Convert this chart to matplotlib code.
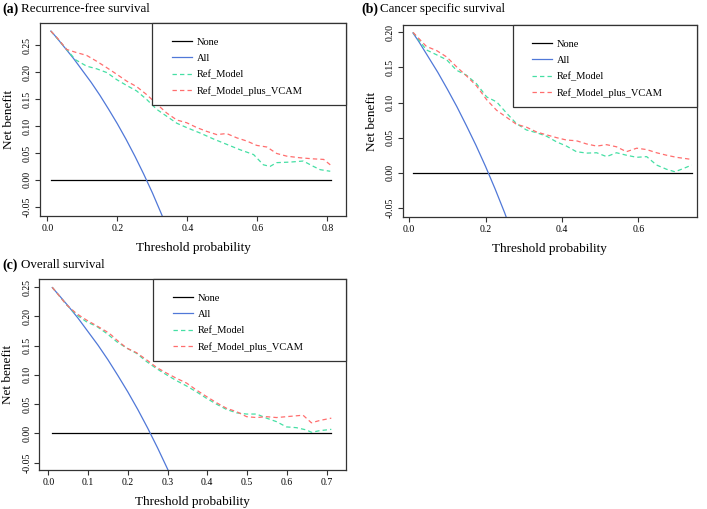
import matplotlib
matplotlib.use("Agg")
import matplotlib.pyplot as plt
from matplotlib.patches import Rectangle

plt.rcParams['font.family'] = ['Liberation Serif', 'DejaVu Serif']
plt.rcParams['axes.unicode_minus'] = False

# ---- (a) Recurrence-free survival ----
a_none_x = [0.01, 0.81]
a_none = [0.0, 0.0]
a_all_x = [0.01, 0.025, 0.05, 0.075, 0.10, 0.125, 0.15, 0.175, 0.20, 0.225, 0.25, 0.275,
           0.30, 0.325, 0.33]
a_all = [0.276, 0.265, 0.245, 0.225, 0.203, 0.181, 0.157, 0.131, 0.104, 0.075, 0.044, 0.011,
         -0.024, -0.062, -0.070]
a_ref_x = [0.01, 0.05, 0.08, 0.112, 0.141, 0.17, 0.198, 0.227, 0.255, 0.284, 0.312, 0.341,
           0.37, 0.398, 0.436, 0.474, 0.512, 0.55, 0.589, 0.617, 0.636, 0.655, 0.693,
           0.731, 0.76, 0.779, 0.808]
a_ref = [0.276, 0.246, 0.223, 0.211, 0.206, 0.199, 0.186, 0.175, 0.165, 0.149, 0.131, 0.118,
         0.105, 0.097, 0.087, 0.076, 0.066, 0.056, 0.047, 0.028, 0.025, 0.032, 0.033,
         0.035, 0.025, 0.019, 0.016]
a_vcam_x = [0.01, 0.03, 0.055, 0.084, 0.112, 0.141, 0.17, 0.198, 0.227, 0.255, 0.284, 0.312,
            0.341, 0.37, 0.398, 0.427, 0.455, 0.484, 0.512, 0.541, 0.57, 0.598, 0.627,
            0.655, 0.684, 0.722, 0.76, 0.789, 0.808]
a_vcam = [0.276, 0.262, 0.242, 0.236, 0.231, 0.220, 0.208, 0.196, 0.183, 0.173, 0.158, 0.141,
          0.124, 0.111, 0.106, 0.097, 0.090, 0.084, 0.086, 0.078, 0.072, 0.064, 0.061,
          0.049, 0.044, 0.041, 0.039, 0.038, 0.028]

# ---- (b) Cancer specific survival ----
b_none_x = [0.01, 0.74]
b_none = [0.0, 0.0]
b_all_x = [0.01, 0.025, 0.05, 0.075, 0.10, 0.125, 0.15, 0.175, 0.20, 0.225, 0.25, 0.26]
b_all = [0.199, 0.187, 0.165, 0.143, 0.119, 0.094, 0.067, 0.039, 0.009, -0.023, -0.057, -0.072]
b_ref_x = [0.01, 0.045, 0.072, 0.098, 0.124, 0.15, 0.176, 0.203, 0.229, 0.255, 0.281, 0.307,
           0.334, 0.36, 0.386, 0.412, 0.438, 0.465, 0.491, 0.517, 0.543, 0.569, 0.596,
           0.622, 0.648, 0.674, 0.696, 0.718, 0.74]
b_ref = [0.200, 0.175, 0.168, 0.161, 0.146, 0.139, 0.127, 0.108, 0.101, 0.085, 0.070, 0.061,
         0.057, 0.052, 0.044, 0.038, 0.030, 0.028, 0.0285, 0.023, 0.0285, 0.025, 0.022,
         0.023, 0.011, 0.005, 0.0014, 0.006, 0.011]
b_vcam_x = [0.01, 0.045, 0.072, 0.098, 0.124, 0.15, 0.176, 0.203, 0.229, 0.255, 0.281, 0.307,
            0.334, 0.36, 0.386, 0.412, 0.438, 0.465, 0.491, 0.517, 0.543, 0.569, 0.596,
            0.622, 0.648, 0.674, 0.70, 0.74]
b_vcam = [0.200, 0.180, 0.174, 0.165, 0.151, 0.138, 0.124, 0.104, 0.089, 0.079, 0.069, 0.065,
          0.058, 0.054, 0.050, 0.0466, 0.0456, 0.041, 0.038, 0.040, 0.037, 0.030, 0.035,
          0.033, 0.0285, 0.025, 0.022, 0.019]

# ---- (c) Overall survival ----
c_none_x = [0.01, 0.71]
c_none = [0.0, 0.0]
c_all_x = [0.01, 0.025, 0.05, 0.075, 0.10, 0.125, 0.15, 0.175, 0.20, 0.225, 0.25, 0.275,
           0.30, 0.31]
c_all = [0.2495, 0.238, 0.218, 0.197, 0.174, 0.151, 0.126, 0.099, 0.071, 0.041, 0.009, -0.025,
         -0.061, -0.077]
c_ref_x = [0.01, 0.046, 0.071, 0.096, 0.122, 0.147, 0.172, 0.197, 0.222, 0.247, 0.272, 0.298,
           0.323, 0.348, 0.373, 0.398, 0.423, 0.448, 0.474, 0.499, 0.524, 0.549, 0.574,
           0.599, 0.624, 0.65, 0.662, 0.683, 0.712]
c_ref = [0.25, 0.22, 0.203, 0.191, 0.183, 0.171, 0.157, 0.146, 0.137, 0.123, 0.111, 0.100,
         0.090, 0.081, 0.071, 0.060, 0.050, 0.041, 0.035, 0.033, 0.033, 0.026, 0.020,
         0.011, 0.0097, 0.0057, 0.0017, 0.0046, 0.0068]
c_vcam_x = [0.01, 0.046, 0.071, 0.096, 0.122, 0.147, 0.159, 0.172, 0.197, 0.222, 0.247, 0.272,
            0.298, 0.323, 0.348, 0.373, 0.398, 0.423, 0.448, 0.474, 0.499, 0.524, 0.549,
            0.574, 0.599, 0.624, 0.641, 0.662, 0.683, 0.712]
c_vcam = [0.25, 0.22, 0.205, 0.194, 0.184, 0.174, 0.168, 0.160, 0.146, 0.138, 0.126, 0.113,
          0.103, 0.094, 0.086, 0.074, 0.063, 0.0525, 0.043, 0.037, 0.0285, 0.027, 0.0285,
          0.027, 0.0285, 0.030, 0.031, 0.018, 0.022, 0.026]

labels = ['None', 'All', 'Ref_Model', 'Ref_Model_plus_VCAM']
col_all = '#5078d8'
col_ref = '#45dfa4'
col_vcam = '#ff6e6e'

panels = [
    dict(tag='(a)', title='Recurrence-free survival', pos=[0.0566, 0.5756, 0.4328, 0.3792],
         xlim=(-0.021, 0.853), ylim=(-0.067, 0.291), xticks=[0, 0.2, 0.4, 0.6, 0.8], xfmt='%.1f',
         yticks=[-0.05, 0, 0.05, 0.1, 0.15, 0.2, 0.25], leg_x=0.366, leg_y=0.575,
         d=(a_none_x, a_none, a_all_x, a_all, a_ref_x, a_ref, a_vcam_x, a_vcam), tpos=(2, 9)),
    dict(tag='(b)', title='Cancer specific survival', pos=[0.5696, 0.5737, 0.4158, 0.3772],
         xlim=(-0.017, 0.753), ylim=(-0.063, 0.2105), xticks=[0, 0.2, 0.4, 0.6], xfmt='%.1f',
         yticks=[-0.05, 0, 0.05, 0.1, 0.15, 0.2], leg_x=0.375, leg_y=0.573,
         d=(b_none_x, b_none, b_all_x, b_all, b_ref_x, b_ref, b_vcam_x, b_vcam), tpos=(361, 9)),
    dict(tag='(c)', title='Overall survival', pos=[0.0556, 0.0766, 0.4338, 0.3747],
         xlim=(-0.0226, 0.749), ylim=(-0.0628, 0.2637), xticks=[0, 0.1, 0.2, 0.3, 0.4, 0.5, 0.6, 0.7],
         xfmt='%.1f', yticks=[-0.05, 0, 0.05, 0.1, 0.15, 0.2, 0.25], leg_x=0.37, leg_y=0.572,
         d=(c_none_x, c_none, c_all_x, c_all, c_ref_x, c_ref, c_vcam_x, c_vcam), tpos=(2, 265)),
]

fig = plt.figure(figsize=(7.07, 5.09), dpi=100)

for p in panels:
    ax = fig.add_axes(p['pos'])
    nx, ny, ax_, ay, rx, ry, vx, vy = p['d']
    ax.plot(nx, ny, color='black', lw=0.9, label=labels[0])
    ax.plot(ax_, ay, color=col_all, lw=0.9, label=labels[1])
    ax.plot(rx, ry, color=col_ref, lw=0.9, ls=(0, (3.5, 2.5)), label=labels[2])
    ax.plot(vx, vy, color=col_vcam, lw=0.9, ls=(0, (3.5, 2.5)), label=labels[3])
    ax.set_xlim(*p['xlim'])
    ax.set_ylim(*p['ylim'])
    ax.set_xticks(p['xticks'])
    ax.set_xticklabels([p['xfmt'] % v for v in p['xticks']])
    ax.set_yticks(p['yticks'])
    ax.set_yticklabels(['%.2f' % v for v in p['yticks']])
    for lbl in ax.get_yticklabels():
        lbl.set_rotation(90)
        lbl.set_va('center')
    ax.tick_params(direction='out', length=3.6, width=0.8, pad=2.2, labelsize=7, color='#333333')
    for s in ax.spines.values():
        s.set_color('#333333')
        s.set_linewidth(0.9)
    ax.set_xlabel('Threshold probability', fontsize=9.5)
    ax.set_ylabel('Net benefit', fontsize=9.5)
    ax.xaxis.set_label_coords(0.5, -0.135)
    ax.yaxis.set_label_coords(-0.083, 0.5)

    # opaque legend box in the top right corner
    ax.add_patch(Rectangle((p['leg_x'], p['leg_y']), 1 - p['leg_x'], 1 - p['leg_y'],
                           transform=ax.transAxes, facecolor='white', edgecolor='#333333',
                           lw=0.9, zorder=4, clip_on=False))
    leg = ax.legend(loc='upper left', bbox_to_anchor=(p['leg_x'] + 0.065, 0.925),
                    frameon=False, fontsize=7.5, handlelength=1.9, handletextpad=0.5,
                    labelspacing=0.66, borderpad=0, borderaxespad=0)
    leg.set_zorder(6)

    fig.text(p['tpos'][0] / 707, 1 - p['tpos'][1] / 509, p['tag'], fontsize=10,
             fontweight='bold', va='center', ha='left')
    fig.text((p['tpos'][0] + 19) / 707, 1 - p['tpos'][1] / 509, p['title'], fontsize=9.4,
             va='center', ha='left')

fig.savefig('out.png', dpi=100)
